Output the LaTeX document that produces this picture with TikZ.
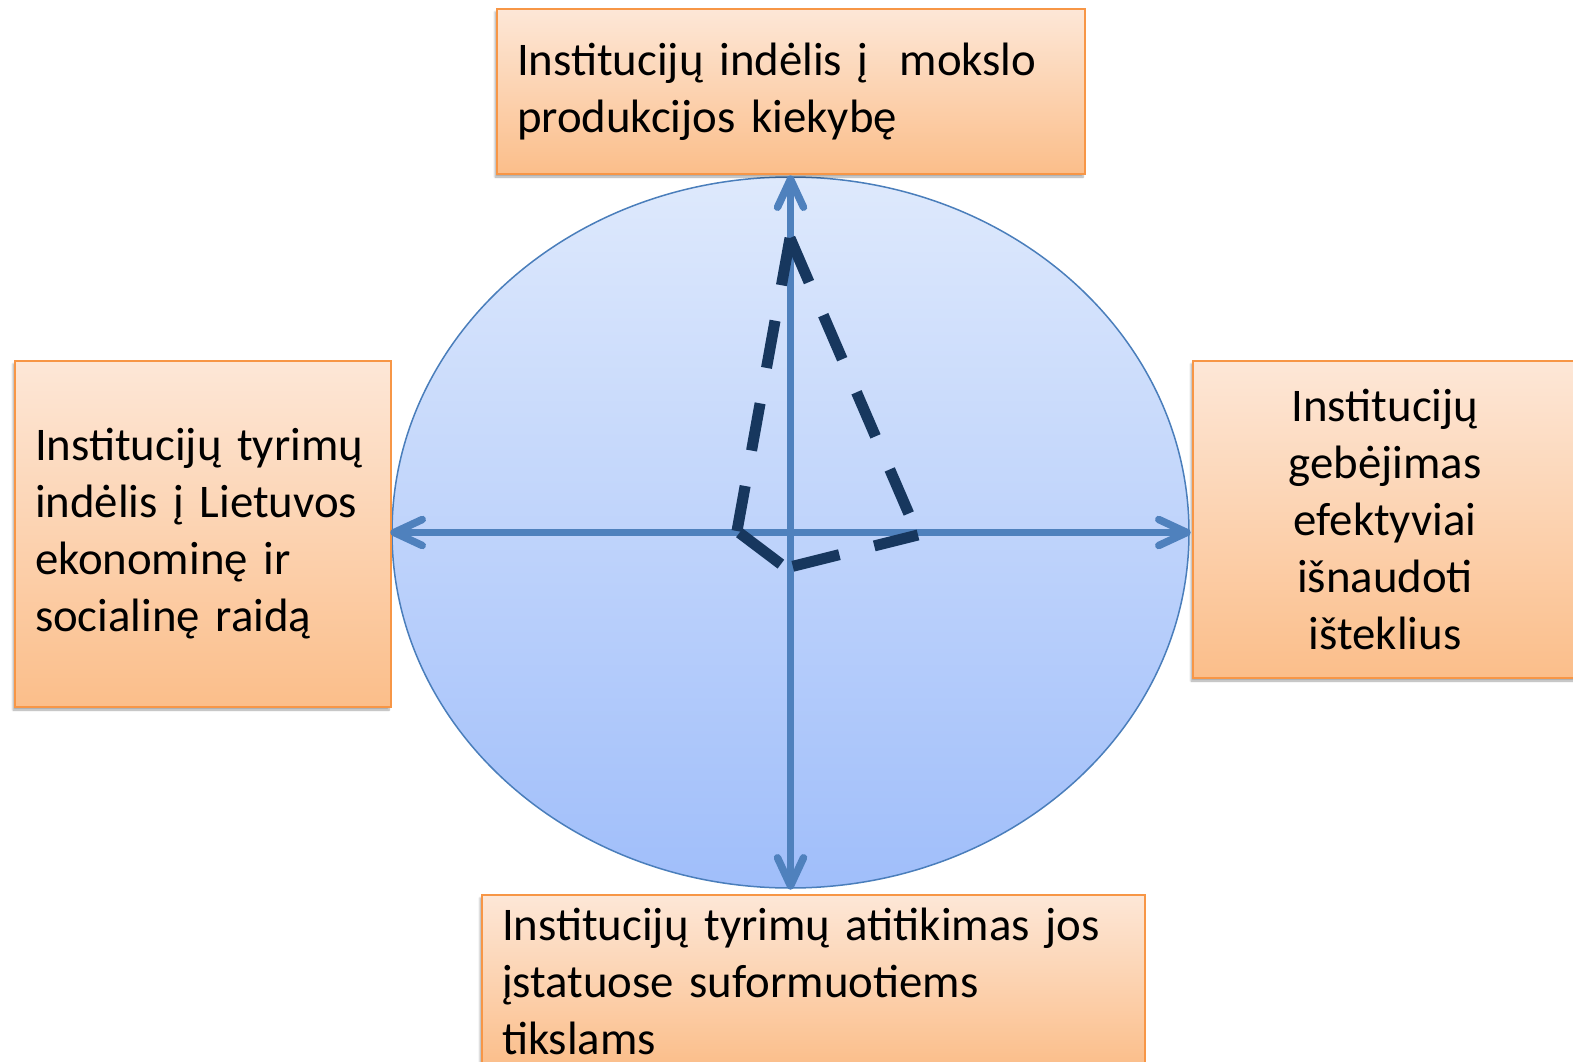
\documentclass[tikz,border=0pt]{standalone}
\usepackage{fontspec}
\setmainfont{Carlito}
\usetikzlibrary{shapes.geometric,shadows.blur,calc}
\definecolor{boxtop}{RGB}{253,231,215}
\definecolor{boxbot}{RGB}{251,190,138}
\definecolor{boxline}{RGB}{247,150,70}
\definecolor{elltop}{RGB}{222,233,252}
\definecolor{ellbot}{RGB}{160,190,250}
\definecolor{ellline}{RGB}{74,126,187}
\definecolor{axiscol}{RGB}{79,129,189}
\definecolor{navy}{RGB}{23,55,94}
\tikzset{
  infobox/.style={draw=boxline, line width=2pt, top color=boxtop, bottom color=boxbot,
    anchor=north west, inner xsep=20pt, inner ysep=0pt,
    font=\fontsize{46.8pt}{57pt}\selectfont,
    blur shadow={shadow xshift=-2pt, shadow yshift=-3pt, shadow blur steps=6, shadow opacity=35}},
  axisline/.style={draw=axiscol, line width=7.5pt, line cap=round, line join=round},
  dashline/.style={draw=navy, line width=11pt}
}
\begin{document}
\begin{tikzpicture}[x=1pt,y=-1pt]
\useasboundingbox (0,0) rectangle (1573,1062);
% ellipse
\node[ellipse, minimum width=797pt, minimum height=711pt, inner sep=0pt,
      draw=ellline, line width=1.5pt, top color=elltop, bottom color=ellbot] (E) at (790.5,532.5) {};
% boxes
\node[infobox, minimum width=588pt, minimum height=165pt, text width=548pt, align=left] (top) at (496,8)
  {Institucijų indėlis į\ \ mokslo\\produkcijos kiekybę};
\node[infobox, minimum width=376pt, minimum height=346pt, text width=336pt, align=left] (left) at (14,360)
  {Institucijų tyrimų\\indėlis į Lietuvos\\ekonominę ir\\socialinę raidą};
\node[infobox, minimum width=384pt, minimum height=317pt, text width=344pt, align=center] (right) at (1192,360)
  {Institucijų\\gebėjimas\\efektyviai\\išnaudoti\\išteklius};
\node[infobox, minimum width=663pt, minimum height=172pt, text width=623pt, align=left] (bottom) at (481,894)
  {Institucijų tyrimų atitikimas jos\\įstatuose suformuotiems\\tikslams};
% axes
\coordinate (aN) at ($(E.north)+(0,3)$);
\coordinate (aS) at ($(E.south)+(0,-3)$);
\coordinate (aW) at ($(E.west)+(3,0)$);
\coordinate (aE) at ($(E.east)+(-3,0)$);
\draw[axisline] (aS) -- (aN);
\draw[axisline] (aW) -- (aE);
\draw[axisline] ($(aN)+(-13,28)$) -- (aN) -- ($(aN)+(13,28)$);
\draw[axisline] ($(aS)+(-13,-28)$) -- (aS) -- ($(aS)+(13,-28)$);
\draw[axisline] ($(aW)+(28,-13)$) -- (aW) -- ($(aW)+(28,13)$);
\draw[axisline] ($(aE)+(-28,-13)$) -- (aE) -- ($(aE)+(-28,13)$);
% dashed figure
\coordinate (tA) at (790,238);
\coordinate (tL) at (737,531);
\coordinate (tB) at (786,568);
\coordinate (tR) at (918,535);
\draw[dashline, dash pattern=on 48pt off 36pt] (tA) -- (tL);
\draw[dashline, dash pattern=on 0pt off 3pt on 52pt off 30pt] (tL) -- (tB);
\draw[dashline, dash pattern=on 0pt off 7pt on 48pt off 36pt on 48pt off 100pt] (tB) -- (tR);
\draw[dashline, dash pattern=on 48pt off 36pt] (tA) -- (tR);
\end{tikzpicture}
\end{document}
